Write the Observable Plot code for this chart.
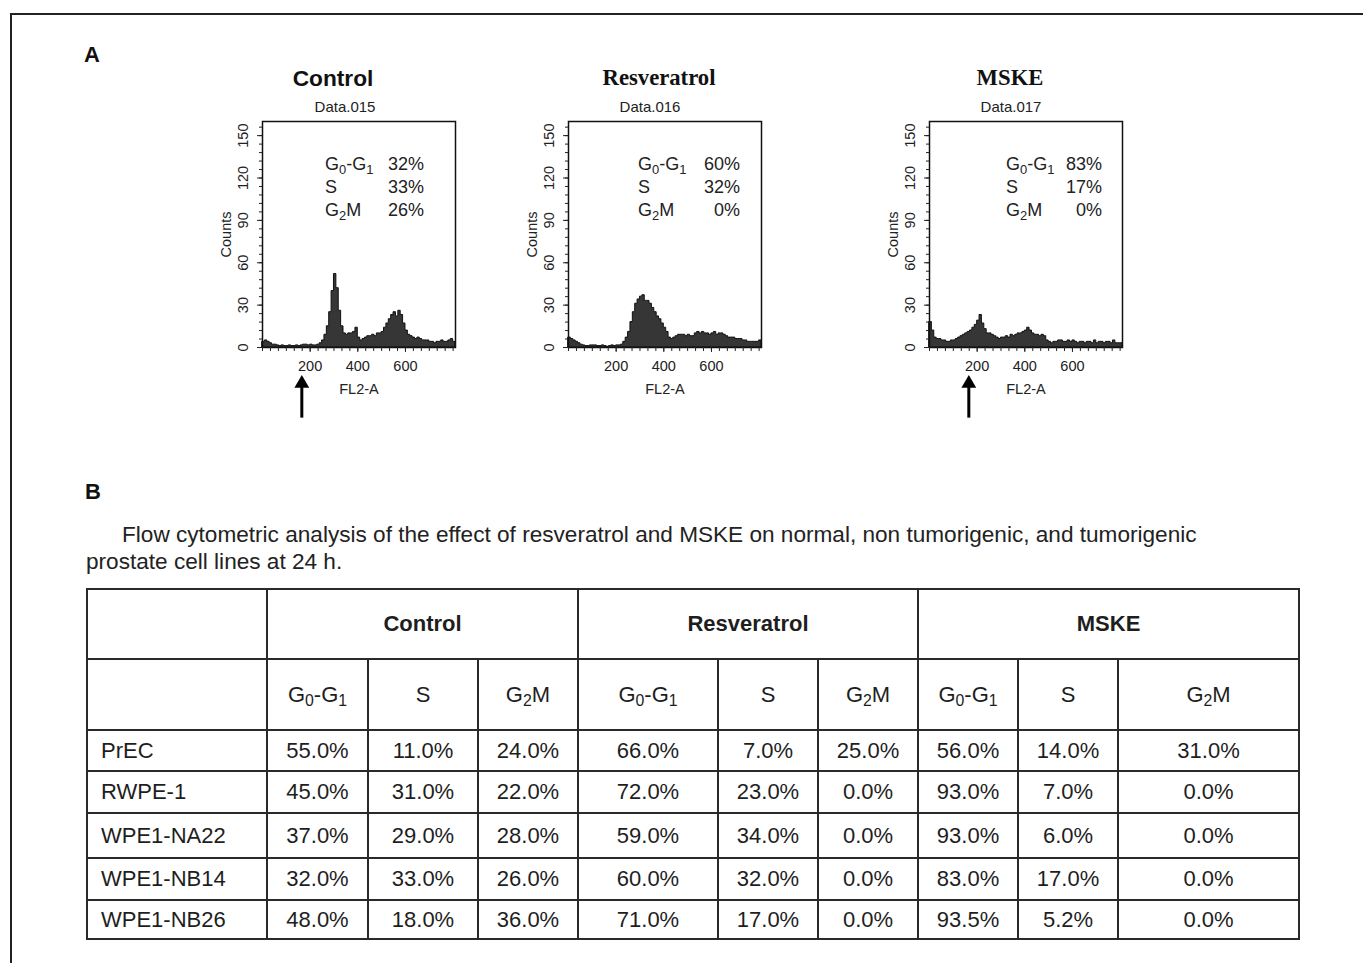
<!DOCTYPE html>
<html>
<head>
<meta charset="utf-8">
<script src="https://cdn.jsdelivr.net/npm/d3@7"></script>
<script src="https://cdn.jsdelivr.net/npm/@observablehq/plot@0.6"></script>
<style>
  body { margin: 0; background: #fff; }
  #page { position: relative; width: 1363px; height: 963px; overflow: hidden; background: #fff;
          font-family: "Liberation Sans", Arial, sans-serif; color: #111; }
  .abs { position: absolute; white-space: nowrap; }
  .frame-border { position: absolute; left: 10px; top: 13px; width: 1400px; height: 1000px;
                  border-left: 2px solid #222; border-top: 2px solid #222; }
  .panelLetter { font-weight: bold; font-size: 22px; line-height: 22px; }
  .title { font-weight: bold; font-size: 22.7px; line-height: 22px; transform: translateX(-50%); }
  .serif { font-family: "Liberation Serif", "Times New Roman", serif; }
  .datafile { font-size: 15px; line-height: 16px; transform: translateX(-50%); color: #222; }
  .annot { font-size: 18px; line-height: 23px; color: #222; }
  .annot .row { display: flex; justify-content: space-between; }
  sub { font-size: 72%; vertical-align: -0.28em; line-height: 0; }
  .caption { font-size: 22.6px; line-height: 27px; color: #222; }
  table.t { position: absolute; left: 86px; top: 588px; border-collapse: collapse; table-layout: fixed;
            font-size: 22px; color: #1e1e1e; }
  table.t td { border: 2px solid #2a2a2a; padding: 0; text-align: center; vertical-align: middle; }
  table.t td.rowlab { text-align: left; padding-left: 13px; }
  table.t td.grp { font-weight: bold; }
</style>
</head>
<body>
<div id="page">
  <div class="frame-border"></div>
</div>
<script>
// ---------- Panel A data ----------
const panelTitles = ["Control", "Resveratrol", "MSKE"];
const dataFiles = ["Data.015", "Data.016", "Data.017"];
const binWidth = 10; // FL2-A channels per histogram bin

// Counts per FL2-A bin (bins start at 0, 10, 20, ... 800)
const controlCounts = [
  4, 5, 4, 3, 2, 2, 1.5, 1, 1.5, 1, 1, 1.5, 1, 1, 1.5, 1, 1.5, 2, 2, 1.5,
  2, 1.5, 1.5, 2, 3, 5, 9, 15, 25, 40, 52, 42, 26, 15, 10, 9, 10, 10, 11, 14,
  7, 5, 6, 7, 8, 8, 9, 8, 10, 10, 11, 14, 17, 20, 23, 25, 22, 26, 23, 17,
  12, 9, 8, 7, 6, 7, 6, 5, 5, 5, 4, 4, 3, 4, 4, 5, 4, 4, 5, 6, 4
];
const resveratrolCounts = [
  7, 6, 5, 4, 3, 2, 1.5, 1, 1, 1.5, 1.5, 1.5, 1, 1, 1.5, 1, 0.5, 1, 1.5, 1,
  1.5, 1.5, 2, 4, 7, 11, 18, 25, 31, 34, 36, 37, 33, 33, 31, 28, 25, 22, 20, 17,
  14, 11, 7, 6, 7, 8, 9, 9, 9, 8, 9, 8, 8, 10, 11, 10, 11, 10, 10, 9,
  10, 11, 9, 10, 10, 9, 8, 7, 7, 7, 6, 6, 6, 5, 5, 4, 4, 4, 4, 4, 5
];
const mskeCounts = [
  18, 12, 7, 6, 6, 5, 5, 4, 4, 5, 5, 6, 7, 8, 9, 10, 11, 12, 14, 16,
  19, 23, 17, 13, 10, 10, 9, 8, 7, 6, 7, 7, 8, 7, 9, 8, 9, 10, 10, 11,
  12, 14, 12, 10, 9, 9, 8, 9, 8, 5, 4, 3, 4, 4, 5, 5, 4, 4, 5, 4,
  5, 4, 3, 4, 4, 3, 4, 4, 3, 5, 3, 4, 4, 3, 4, 4, 3, 5, 3, 3, 3
];
const panelCounts = [controlCounts, resveratrolCounts, mskeCounts];

const phaseLabels = ["G<sub>0</sub>-G<sub>1</sub>", "S", "G<sub>2</sub>M"];
const panelPercents = [[32, 33, 26], [60, 32, 0], [83, 17, 0]];

const xTickLabels = [200, 400, 600];
const yTickLabels = [0, 30, 60, 90, 120, 150];
const arrowChannel = [165, null, 165];

// ---------- Panel B data ----------
const treatments = ["Control", "Resveratrol", "MSKE"];
const cellLines = ["PrEC", "RWPE-1", "WPE1-NA22", "WPE1-NB14", "WPE1-NB26"];
const controlPct     = [[55.0, 11.0, 24.0], [45.0, 31.0, 22.0], [37.0, 29.0, 28.0], [32.0, 33.0, 26.0], [48.0, 18.0, 36.0]];
const resveratrolPct = [[66.0, 7.0, 25.0], [72.0, 23.0, 0.0], [59.0, 34.0, 0.0], [60.0, 32.0, 0.0], [71.0, 17.0, 0.0]];
const mskePct        = [[56.0, 14.0, 31.0], [93.0, 7.0, 0.0], [93.0, 6.0, 0.0], [83.0, 17.0, 0.0], [93.5, 5.2, 0.0]];
const captionText = ["Flow cytometric analysis of the effect of resveratrol and MSKE on normal, non tumorigenic, and tumorigenic",
                     "prostate cell lines at 24 h."];

// ---------- layout ----------
const page = document.getElementById("page");
function addDiv(cls, html, left, top, extra) {
  const d = document.createElement("div");
  d.className = "abs " + cls;
  d.innerHTML = html;
  d.style.left = left + "px";
  d.style.top = top + "px";
  if (extra) Object.assign(d.style, extra);
  page.appendChild(d);
  return d;
}

addDiv("panelLetter", "A", 84, 44);
addDiv("panelLetter", "B", 85, 481);

const frameLefts = [262, 568, 929];
const titleCenters = [333, 659, 1010];
const fileCenters = [345, 650, 1011];
const annotBoxes = [[325, 99], [638, 102], [1006, 96]];
const M = {left: 50, right: 8, top: 8, bottom: 75};
const frameW = 193, frameH = 226, frameTop = 121;

panelCounts.forEach((counts, i) => {
  addDiv("title" + (i > 0 ? " serif" : ""), panelTitles[i], titleCenters[i], 67);
  addDiv("datafile", dataFiles[i], fileCenters[i], 99);

  const bins = counts.map((c, k) => ({x: k * binWidth, y: c}));
  bins.push({x: counts.length * binWidth, y: counts[counts.length - 1]});

  const marks = [
    Plot.areaY(bins, {x: "x", y: "y", curve: "step-after", fill: "#363636", stroke: "#111", strokeWidth: 1}),
    Plot.frame({stroke: "#111", strokeWidth: 1.5}),
    Plot.axisY({ticks: d3.range(0, 161, 6), tickSize: 3, tickFormat: () => "", label: null}),
    Plot.axisY({ticks: yTickLabels, tickSize: 5, tickRotate: -90, tickPadding: 10,
                label: "Counts", labelAnchor: "center", labelArrow: "none", labelOffset: 42}),
    Plot.axisX({ticks: d3.range(0, 811, 100 / 3), tickSize: 4, tickFormat: () => "", label: null}),
    Plot.axisX({ticks: xTickLabels, tickSize: 5, tickPadding: 8,
                label: "FL2-A", labelAnchor: "center", labelArrow: "none", labelOffset: 46})
  ];
  if (arrowChannel[i] != null) {
    marks.push(Plot.ruleX([arrowChannel[i]], {x: d => d, y1: -50, y2: -25, stroke: "#000", strokeWidth: 3}));
    marks.push(Plot.dot([arrowChannel[i]], {x: d => d, y: -25.5, symbol: "triangle", r: 5.5, fill: "#000", stroke: "none"}));
  }

  const svg = Plot.plot({
    width: M.left + frameW + M.right,
    height: M.top + frameH + M.bottom,
    marginLeft: M.left, marginRight: M.right, marginTop: M.top, marginBottom: M.bottom,
    x: {domain: [0, 810]},
    y: {domain: [0, 160]},
    style: {fontFamily: "'Liberation Sans', Arial, sans-serif", fontSize: "14.5px", color: "#222", background: "transparent", overflow: "visible"},
    marks
  });
  svg.style.position = "absolute";
  svg.style.left = (frameLefts[i] - M.left) + "px";
  svg.style.top = (frameTop - M.top) + "px";
  page.appendChild(svg);

  const a = addDiv("annot", "", annotBoxes[i][0], 153, {width: annotBoxes[i][1] + "px"});
  a.innerHTML = phaseLabels.map((p, k) =>
    `<div class="row"><span>${p}</span><span>${panelPercents[i][k]}%</span></div>`).join("");
});

// ---------- Panel B ----------
addDiv("caption", captionText[0], 122, 521);
addDiv("caption", captionText[1], 86, 548);

const colWidths = [180, 101, 110, 100, 140, 100, 100, 100, 100, 181];
const rowHeights = [70, 71, 41, 42, 45, 42, 39];
const fmt = v => v.toFixed(1) + "%";
let html = "<colgroup>" + colWidths.map(w => `<col style="width:${w}px">`).join("") + "</colgroup>";
html += `<tr style="height:${rowHeights[0]}px"><td></td>` +
  treatments.map(t => `<td class="grp" colspan="3">${t}</td>`).join("") + "</tr>";
html += `<tr style="height:${rowHeights[1]}px"><td></td>` +
  treatments.map(() => phaseLabels.map(p => `<td>${p}</td>`).join("")).join("") + "</tr>";
cellLines.forEach((line, r) => {
  const vals = [...controlPct[r], ...resveratrolPct[r], ...mskePct[r]];
  html += `<tr style="height:${rowHeights[r + 2]}px"><td class="rowlab">${line}</td>` +
    vals.map(v => `<td>${fmt(v)}</td>`).join("") + "</tr>";
});
const table = document.createElement("table");
table.className = "t";
table.style.width = d3.sum(colWidths) + "px";
table.innerHTML = html;
page.appendChild(table);
</script>
</body>
</html>
